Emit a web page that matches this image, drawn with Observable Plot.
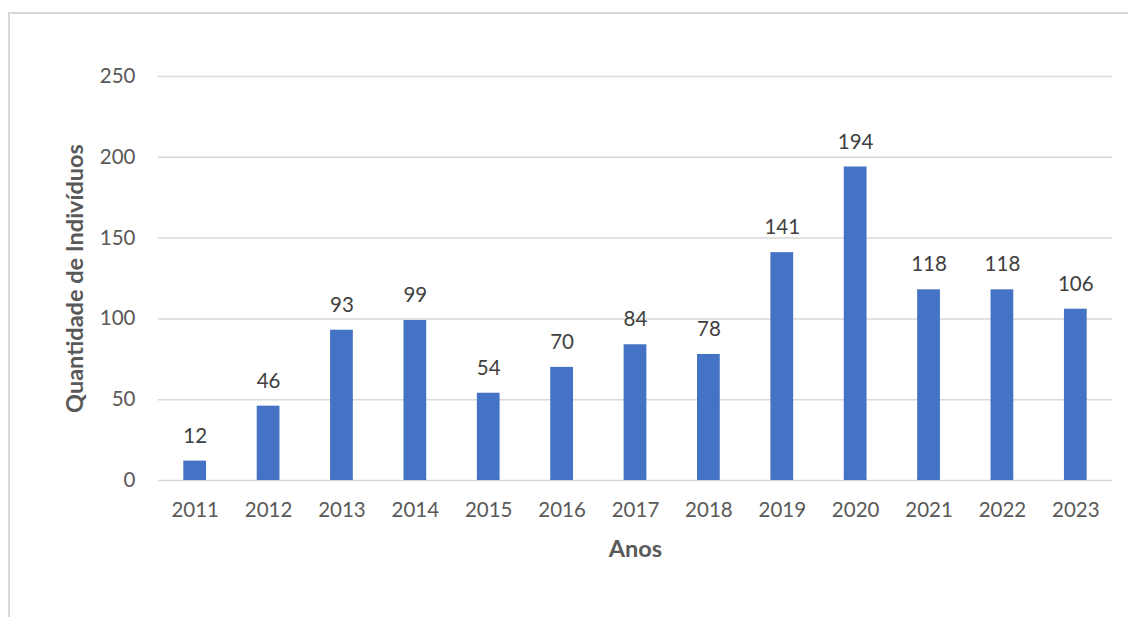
<!DOCTYPE html>
<html>
<head>
<meta charset="utf-8">
<script src="https://cdn.jsdelivr.net/npm/d3@7"></script>
<script src="https://cdn.jsdelivr.net/npm/@observablehq/plot@0.6"></script>
<style>
  html, body { margin: 0; padding: 0; background: #fff; width: 1128px; height: 617px; overflow: hidden; }
  #frame { position: absolute; left: 8px; top: 12px; width: 1300px; height: 800px; border: 2px solid #d9d9d9; box-sizing: border-box; }
  #chart { position: absolute; left: 0; top: 0; }
</style>
</head>
<body>
<div id="frame"></div>
<div id="chart"></div>
<script>
const years = ["2011","2012","2013","2014","2015","2016","2017","2018","2019","2020","2021","2022","2023"];
const counts = [12, 46, 93, 99, 54, 70, 84, 78, 141, 194, 118, 118, 106];
const yTicks = [0, 50, 100, 150, 200, 250];
const xTitle = "Anos";
const yTitle = "Quantidade de Indivíduos";

const data = years.map((y, i) => ({year: y, count: counts[i]}));

const chart = Plot.plot({
  width: 1128,
  height: 617,
  marginLeft: 158,
  marginRight: 16,
  marginTop: 76,
  marginBottom: 137,
  style: {fontFamily: "Lato, 'Open Sans', sans-serif", fontSize: "20px", color: "#595959", background: "transparent", overflow: "visible"},
  x: {domain: years, paddingInner: 0.69, paddingOuter: 0.345, round: false},
  y: {domain: [0, 250]},
  marks: [
    Plot.gridY(yTicks, {stroke: "#d9d9d9", strokeOpacity: 1, strokeWidth: 1.5}),
    Plot.barY(data, {x: "year", y: "count", fill: "#4472c4"}),
    Plot.text(data, {x: "year", y: "count", text: d => String(d.count), dy: -25, fill: "#404040", fontSize: 20.5}),
    Plot.axisX({tickSize: 0, tickPadding: 22, label: null, fill: "#595959", fontSize: 20.5}),
    Plot.axisY({ticks: yTicks, tickSize: 0, tickPadding: 23, label: null, fill: "#595959", fontSize: 20.5}),
    Plot.text([xTitle], {frameAnchor: "bottom", dy: 76, text: d => d, fontWeight: "bold", fill: "#595959", fontSize: 23.5}),
    Plot.text([yTitle], {frameAnchor: "left", textAnchor: "middle", dx: -83, rotate: -90, text: d => d, fontWeight: "bold", fill: "#595959", fontSize: 23.5})
  ]
});
document.getElementById("chart").appendChild(chart);
</script>
</body>
</html>
